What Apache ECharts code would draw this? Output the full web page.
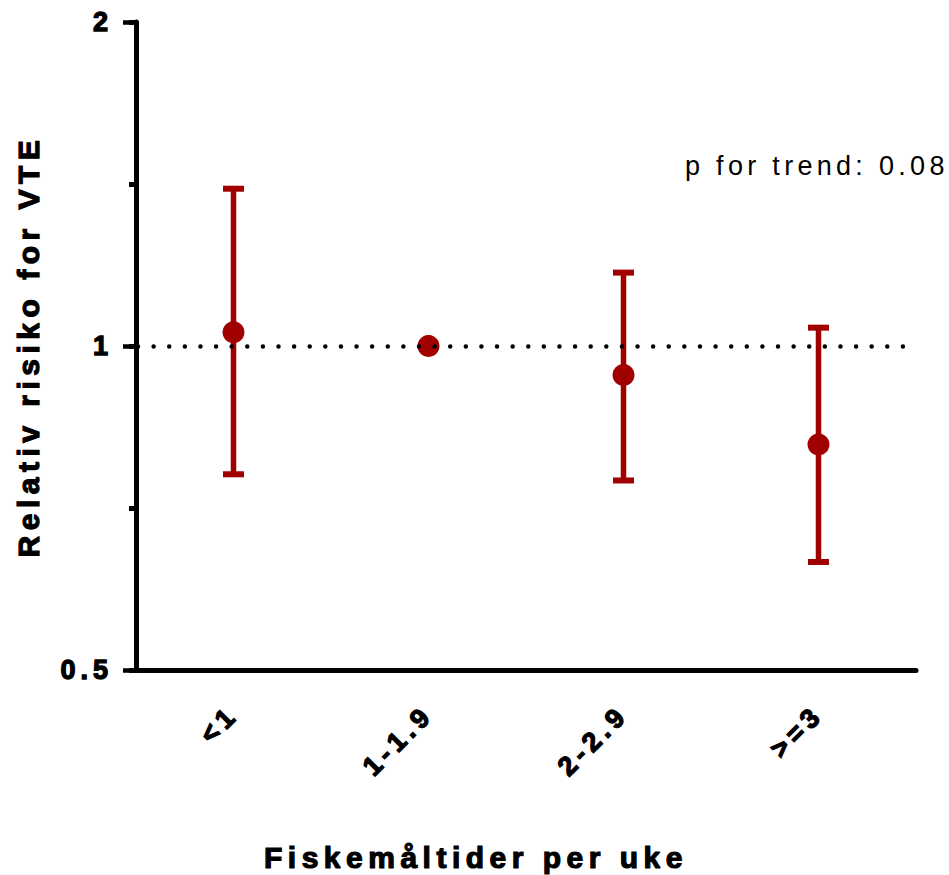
<!DOCTYPE html>
<html>
<head>
<meta charset="utf-8">
<script src="https://cdn.jsdelivr.net/npm/echarts@6/dist/echarts.min.js"></script>
<style>
html,body{margin:0;padding:0;background:#fff;}
#chart{width:949px;height:875px;}
</style>
</head>
<body>
<div id="chart"></div>
<script>
const categories = ['<1', '1-1.9', '2-2.9', '>=3'];
const relativeRisk = [1.03, 1.0, 0.94, 0.81];
const ciLow = [0.76, null, 0.75, 0.63];
const ciHigh = [1.40, null, 1.17, 1.04];
const yMin = 0.5;
const yMax = 2;
const refValue = 1;
const yTitle = 'Relativ risiko for VTE';
const xTitle = 'Fiskemåltider per uke';
const note = 'p for trend: 0.08';

const RED = '#A00000';
const FONT = '"Liberation Sans", Arial, Helvetica, sans-serif';

const errData = [];
categories.forEach((c, i) => {
  if (ciLow[i] != null && ciHigh[i] != null) errData.push([i, ciLow[i], ciHigh[i]]);
});

const chart = echarts.init(document.getElementById('chart'), null, {renderer: 'svg'});
chart.setOption({
  animation: false,
  backgroundColor: '#fff',
  grid: {left: 136, right: 33, top: 22, bottom: 205, containLabel: false},
  xAxis: {
    type: 'category',
    data: categories,
    boundaryGap: true,
    axisLine: {lineStyle: {color: '#000', width: 5}},
    axisTick: {alignWithLabel: true, length: 13, lineStyle: {color: '#000', width: 4.5}},
    axisLabel: {rotate: 45, margin: 40, color: '#000', fontSize: 27, fontWeight: 'bold', fontFamily: FONT,
      textBorderColor: '#000', textBorderWidth: 1.3},
    splitLine: {show: false}
  },
  yAxis: [
    {
      type: 'log',
      logBase: 2,
      min: yMin,
      max: yMax,
      interval: 1,
      position: 'left',
      axisLine: {show: true, lineStyle: {color: '#000', width: 5}},
      axisTick: {show: true, length: 13, lineStyle: {color: '#000', width: 4.5}},
      axisLabel: {margin: 23, color: '#000', fontSize: 27, fontWeight: 'bold', fontFamily: FONT,
        textBorderColor: '#000', textBorderWidth: 1.3},
      splitLine: {show: false},
      name: yTitle,
      nameLocation: 'middle',
      nameRotate: 90,
      nameGap: 93,
      nameTextStyle: {color: '#000', fontSize: 30, fontWeight: 'bold', fontFamily: FONT,
        textBorderColor: '#000', textBorderWidth: 1.2}
    },
    {
      type: 'log',
      logBase: 2,
      min: yMin,
      max: yMax,
      interval: 0.5,
      position: 'left',
      offset: 0,
      axisLine: {show: false},
      axisTick: {show: true, length: 7, lineStyle: {color: '#000', width: 5}},
      axisLabel: {show: false},
      splitLine: {show: false}
    }
  ],
  graphic: [
    {type: 'text', x: 685, y: 166, style: {text: note, fontSize: 27, fontWeight: 'normal', fontFamily: FONT, fill: '#000', textAlign: 'left', textVerticalAlign: 'middle'}},
    {type: 'text', x: 476, y: 857, style: {text: xTitle, fontSize: 30, fontWeight: 'bold', fontFamily: FONT, fill: '#000', textAlign: 'center', textVerticalAlign: 'middle',
      stroke: '#000', lineWidth: 1.2}}
  ],
  series: [
    {
      type: 'custom',
      z: 1,
      data: errData,
      renderItem: function (params, api) {
        const hi = api.coord([api.value(0), api.value(2)]);
        const lo = api.coord([api.value(0), api.value(1)]);
        const cw = 21;
        return {
          type: 'group',
          children: [
            {type: 'line', shape: {x1: hi[0], y1: hi[1], x2: lo[0], y2: lo[1]}, style: {stroke: RED, lineWidth: 5.5}},
            {type: 'line', shape: {x1: hi[0] - cw / 2, y1: hi[1], x2: hi[0] + cw / 2, y2: hi[1]}, style: {stroke: RED, lineWidth: 6}},
            {type: 'line', shape: {x1: lo[0] - cw / 2, y1: lo[1], x2: lo[0] + cw / 2, y2: lo[1]}, style: {stroke: RED, lineWidth: 6}}
          ]
        };
      }
    },
    {
      type: 'line',
      z: 2,
      data: [],
      markLine: {
        silent: true,
        symbol: ['none', 'none'],
        label: {show: false},
        lineStyle: {color: '#000', width: 4.5, type: [0.01, 15.6], cap: 'round', dashOffset: -2},
        data: [{yAxis: refValue}]
      }
    },
    {
      type: 'scatter',
      z: 3,
      data: relativeRisk,
      symbol: 'circle',
      symbolSize: 22,
      itemStyle: {color: RED, opacity: 1}
    }
  ]
});

function spaceLetters() {
  document.querySelectorAll('#chart text').forEach(function (t) {
    const fs = parseFloat(getComputedStyle(t).fontSize);
    let ls;
    if (fs >= 29.5) ls = 5.5;
    else if (t.textContent.indexOf('trend') >= 0) ls = 4.3;
    else ls = 5;
    t.style.letterSpacing = ls + 'px';
  });
}
chart.on('finished', spaceLetters);
setTimeout(spaceLetters, 50);
</script>
</body>
</html>
